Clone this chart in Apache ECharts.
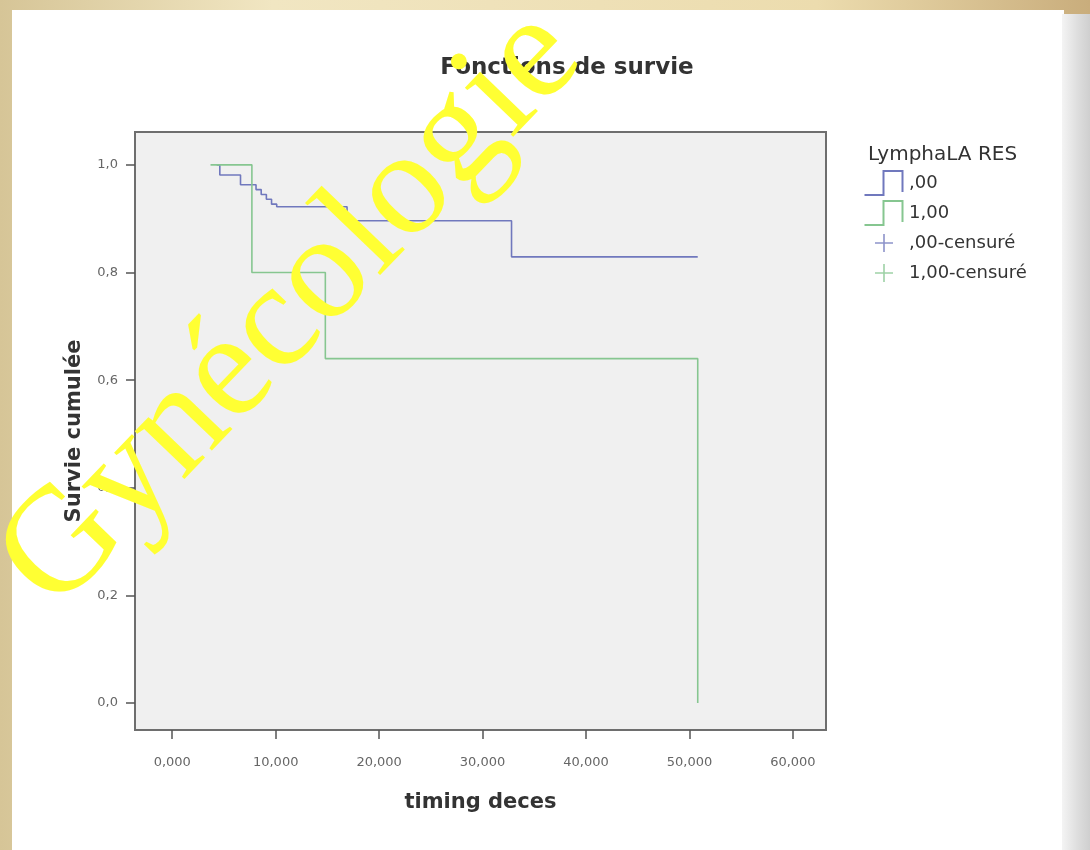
<!DOCTYPE html>
<html>
<head>
<meta charset="utf-8">
<script src="https://cdn.jsdelivr.net/npm/echarts@6/dist/echarts.min.js"></script>
<style>
    html, body {
        margin: 0;
        width: 1090px;
        height: 850px;
        overflow: hidden;
        background: linear-gradient(90deg, #d6c597 0%, #f1e6c2 25%, #ecdcae 75%, #c9ad7c 100%);
    }
    .paper {
        position: absolute;
        left: 12px;
        top: 10px;
        width: 1052px;
        height: 840px;
        background: #ffffff;
    }
    .edge {
        position: absolute;
        left: 1062px;
        top: 14px;
        width: 28px;
        height: 836px;
        background: linear-gradient(90deg, #f4f4f4 0%, #dcdcdc 60%, #cfcfcf 100%);
    }
    #chart {
        position: absolute;
        left: 0;
        top: 0;
        width: 1090px;
        height: 850px;
    }
</style>
</head>
<body>
<div class="paper"></div>
<div class="edge"></div>
<div id="chart"></div>
<script>
// courbe ,00 (LymphaLA RES = 0)
const blueTimes = [4.3, 4.6, 6.6, 8.1, 8.6, 9.1, 9.6, 10.1, 16.9, 32.8, 50.8];
const blueSurv = [1.0, 0.981, 0.963, 0.954, 0.945, 0.936, 0.927, 0.922, 0.896, 0.829, 0.829];
// courbe 1,00
const greenTimes = [3.7, 7.7, 14.8, 50.8, 50.8];
const greenSurv = [1.0, 0.8, 0.64, 0.64, 0.0];
// pas de censures visibles
const blueCensored = [];
const greenCensored = [];

const xTicks = [0, 10, 20, 30, 40, 50, 60];
const yTicks = [0, 0.2, 0.4, 0.6, 0.8, 1.0];
const groupNames = [',00', '1,00', ',00-censuré', '1,00-censuré'];

const blueColor = '#7078bd';
const greenColor = '#86c690';
const font = 'DejaVu Sans';

const toPairs = (xs, ys) => xs.map((x, i) => [x, ys[i]]);

// icônes de légende (escalier et croix), boîte 40x26
const stepIcon = 'path://M0,24L18,24L18,0L39,0L39,22L37,22L37,2L20,2L20,26L0,26Z';
const plusIcon = 'path://M0,0L0.01,0L0,0.01ZM40,26L39.99,26L40,25.99Z' +
    'M19.2,4L20.8,4L20.8,12.2L29,12.2L29,13.8L20.8,13.8L20.8,22L19.2,22L19.2,13.8L11,13.8L11,12.2L19.2,12.2Z';

const chart = echarts.init(document.getElementById('chart'));

chart.setOption({
    animation: false,
    title: [
        {
            text: 'Fonctions de survie',
            left: 562,
            top: 52,
            textAlign: 'center',
            textStyle: { fontFamily: font, fontSize: 23, fontWeight: 'bold', color: '#333' }
        },
        {
            text: 'LymphaLA RES',
            left: 863,
            top: 140,
            textStyle: { fontFamily: font, fontSize: 20, fontWeight: 'normal', color: '#333' }
        }
    ],
    legend: {
        orient: 'vertical',
        left: 859,
        top: 165,
        itemWidth: 40,
        itemHeight: 26,
        itemGap: 4,
        textStyle: { fontFamily: font, fontSize: 18, color: '#333' },
        data: [
            { name: groupNames[0], icon: stepIcon },
            { name: groupNames[1], icon: stepIcon },
            { name: groupNames[2], icon: plusIcon },
            { name: groupNames[3], icon: plusIcon }
        ]
    },
    grid: {
        left: 135,
        right: 264,
        top: 132,
        bottom: 120,
        show: true,
        backgroundColor: '#f0f0f0',
        borderColor: '#6e6e6e',
        borderWidth: 2
    },
    xAxis: {
        type: 'value',
        min: -3.6,
        max: 63.2,
        name: 'timing deces',
        nameLocation: 'middle',
        nameGap: 62,
        nameTextStyle: { fontFamily: font, fontSize: 21, fontWeight: 'bold', color: '#333' },
        axisLine: { show: false, onZero: false },
        splitLine: { show: false },
        axisTick: { show: true, customValues: xTicks, length: 9, lineStyle: { color: '#555', width: 1.5 } },
        axisLabel: {
            customValues: xTicks,
            margin: 26,
            fontFamily: font,
            fontSize: 13,
            color: '#666',
            formatter: v => v.toFixed(3).replace('.', ',')
        }
    },
    yAxis: {
        type: 'value',
        min: -0.05,
        max: 1.061,
        name: 'Survie cumulée',
        nameLocation: 'middle',
        nameGap: 50,
        nameTextStyle: { fontFamily: font, fontSize: 21, fontWeight: 'bold', color: '#333' },
        axisLine: { show: false, onZero: false },
        splitLine: { show: false },
        axisTick: { show: true, customValues: yTicks, length: 9, lineStyle: { color: '#555', width: 1.5 } },
        axisLabel: {
            customValues: yTicks,
            margin: 17,
            fontFamily: font,
            fontSize: 13,
            color: '#666',
            formatter: v => v.toFixed(1).replace('.', ',')
        }
    },
    series: [
        {
            name: groupNames[0],
            type: 'line',
            step: 'end',
            showSymbol: false,
            color: blueColor,
            lineStyle: { width: 1.6, color: blueColor },
            data: toPairs(blueTimes, blueSurv)
        },
        {
            name: groupNames[1],
            type: 'line',
            step: 'end',
            showSymbol: false,
            color: greenColor,
            lineStyle: { width: 1.6, color: greenColor },
            data: toPairs(greenTimes, greenSurv)
        },
        {
            name: groupNames[2],
            type: 'scatter',
            color: blueColor,
            data: blueCensored
        },
        {
            name: groupNames[3],
            type: 'scatter',
            color: greenColor,
            data: greenCensored
        }
    ],
    graphic: [
        {
            type: 'text',
            x: 292,
            y: 310,
            rotation: Math.PI / 4 + 0.02,
            z: 100,
            style: {
                text: 'Gynécologie',
                fontFamily: 'Liberation Serif',
                fontSize: 150,
                fill: '#ffff33',
                align: 'center',
                verticalAlign: 'middle'
            }
        }
    ]
});
</script>
</body>
</html>
